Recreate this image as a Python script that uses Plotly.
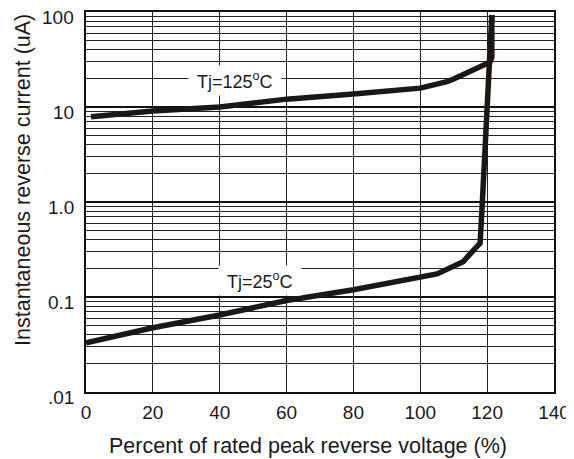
import math
import plotly.graph_objects as go

# Data
x_125 = [1.5, 20, 40, 60, 80, 100, 108, 110, 120.8, 121.4, 121.4]
y_125 = [7.9, 9.1, 10.0, 12.1, 13.7, 15.8, 18.5, 19.7, 29.6, 33, 93]

x_25 = [0, 20, 40, 60, 80, 100, 105, 112.8, 117.9, 118.6, 120.8, 121.4]
y_25 = [0.033, 0.0475, 0.0646, 0.092, 0.119, 0.163, 0.175, 0.235, 0.37, 1.05, 29.6, 93]

x_ticks = [0, 20, 40, 60, 80, 100, 120, 140]
y_tickvals = [0.01, 0.1, 1, 10, 100]
y_ticktext = [".01", "0.1", "1.0", "10", "100"]

label_125 = "&nbsp;Tj=125<sup>o</sup>C&nbsp;"
label_25 = "&nbsp;Tj=25<sup>o</sup>C&nbsp;"
x_title = "Percent of rated peak reverse voltage (%)"
y_title = "Instantaneous reverse current (uA)"

FONT = "Liberation Sans, Arial, sans-serif"
TXT = "#1a1a1a"
LINE_COLOR = "#1b1715"

minor_vals = [k * 10.0 ** e for e in range(-2, 2) for k in range(2, 10)]

fig = go.Figure()
fig.add_trace(go.Scatter(x=x_125, y=y_125, mode="lines",
                         line=dict(color=LINE_COLOR, width=5.5), showlegend=False))
fig.add_trace(go.Scatter(x=x_25, y=y_25, mode="lines",
                         line=dict(color=LINE_COLOR, width=5.5), showlegend=False))

# page body has an 8px margin, so the figure is shifted by 8px; compensate
fig.update_layout(
    width=566, height=451,
    margin=dict(l=78, r=20, t=4, b=67, pad=0, autoexpand=False),
    paper_bgcolor="white", plot_bgcolor="white",
    font=dict(family=FONT, color=TXT),
    showlegend=False,
)

fig.update_xaxes(
    range=[0, 140], tickvals=x_ticks, ticktext=[str(v) for v in x_ticks],
    showgrid=True, gridcolor="#222222", gridwidth=1,
    showline=True, linecolor="#111111", linewidth=2, mirror=True,
    zeroline=False, ticks="", ticklabelstandoff=2, automargin=False,
    tickfont=dict(size=19, family=FONT, color=TXT),
)
fig.update_yaxes(
    type="log", range=[-2, 2],
    tickvals=y_tickvals, showticklabels=False,
    showgrid=True, gridcolor="#111111", gridwidth=2,
    minor=dict(tickmode="array", tickvals=minor_vals, showgrid=True,
               gridcolor="#222222", gridwidth=1, ticks=""),
    showline=True, linecolor="#111111", linewidth=2, mirror=True,
    zeroline=False, ticks="", automargin=False,
)

# y tick labels (sit slightly below their gridlines, as in the reference)
for v, t in zip(y_tickvals, y_ticktext):
    fig.add_annotation(x=-0.021, y=math.log10(v), xref="paper", yref="y",
                       text=t, showarrow=False, xanchor="right", yanchor="middle",
                       yshift=-5, font=dict(size=19, family=FONT, color=TXT))

fig.add_annotation(x=44.6, y=1.275, xref="x", yref="y", text=label_125,
                   showarrow=False, bgcolor="white", borderpad=3,
                   font=dict(size=18, family=FONT, color=TXT))
fig.add_annotation(x=52, y=-0.83, xref="x", yref="y", text=label_25,
                   showarrow=False, bgcolor="white", borderpad=3,
                   font=dict(size=18, family=FONT, color=TXT))

fig.add_annotation(x=0.474, y=-0.141, xref="paper", yref="paper", text=x_title,
                   showarrow=False, xanchor="center", yanchor="middle",
                   font=dict(size=21.5, family=FONT, color=TXT))
fig.add_annotation(x=-0.1346, y=0.558, xref="paper", yref="paper", text=y_title,
                   showarrow=False, xanchor="center", yanchor="middle", textangle=-90,
                   font=dict(size=21.5, family=FONT, color=TXT))

fig.write_html("out.html")
